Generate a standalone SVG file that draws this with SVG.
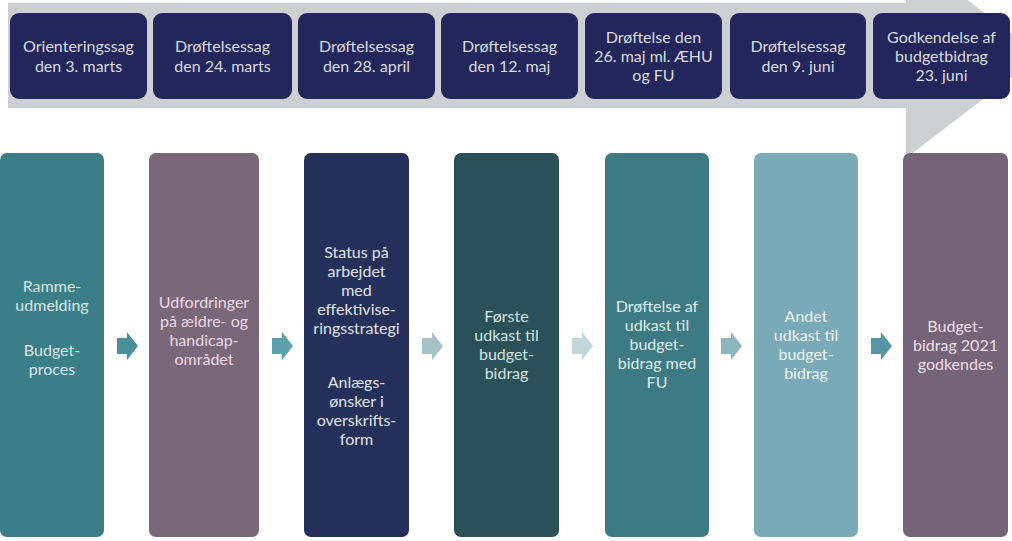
<svg xmlns="http://www.w3.org/2000/svg" width="1012" height="541" viewBox="0 0 1012 541">
<style>
.t{font-family:Lato,"Open Sans","Liberation Sans",sans-serif;font-size:16px;text-anchor:middle}
.top{fill:#d9dce8}
</style>
<defs>
<path id="sa" d="M0,-8 H10 V-14 L21,0 L10,14 V8 H0 Z"/>
</defs>
<rect width="1012" height="541" fill="#ffffff"/>
<g id="band">
<polygon points="8,3 906,3 906,-47 1040,55.5 906,158 906,108 8,108" fill="#cdcfd3"/>
</g>
<g id="top1"><rect x="10" y="13" width="137" height="86" rx="9" fill="#23265a"/><text class="t top" x="78.5"><tspan x="78.5" y="52">Orienteringssag</tspan><tspan x="78.5" y="72">den 3. marts</tspan></text></g>
<g id="top2"><rect x="153" y="13" width="139" height="86" rx="9" fill="#23265a"/><text class="t top"><tspan x="222.5" y="52">Drøftelsessag</tspan><tspan x="222.5" y="72">den 24. marts</tspan></text></g>
<g id="top3"><rect x="298" y="13" width="137" height="86" rx="9" fill="#23265a"/><text class="t top"><tspan x="366.5" y="52">Drøftelsessag</tspan><tspan x="366.5" y="72">den 28. april</tspan></text></g>
<g id="top4"><rect x="441" y="13" width="137" height="86" rx="9" fill="#23265a"/><text class="t top"><tspan x="509.5" y="52">Drøftelsessag</tspan><tspan x="509.5" y="72">den 12. maj</tspan></text></g>
<g id="top5"><rect x="585" y="13" width="137" height="86" rx="9" fill="#23265a"/><text class="t top"><tspan x="653.5" y="43">Drøftelse den</tspan><tspan x="653.5" y="62">26. maj ml. ÆHU</tspan><tspan x="653.5" y="81">og FU</tspan></text></g>
<g id="top6"><rect x="730" y="13" width="136" height="86" rx="9" fill="#23265a"/><text class="t top"><tspan x="798" y="52">Drøftelsessag</tspan><tspan x="798" y="72">den 9. juni</tspan></text></g>
<g id="top7"><rect x="873" y="13" width="137" height="86" rx="9" fill="#23265a"/><text class="t top"><tspan x="941.5" y="43">Godkendelse af</tspan><tspan x="941.5" y="62">budgetbidrag</tspan><tspan x="941.5" y="81">23. juni</tspan></text></g>

<g id="box1"><rect x="0" y="153" width="104" height="384" rx="7" fill="#3c7e88"/><text class="t" fill="#d6e9eb"><tspan x="52" y="292">Ramme-</tspan><tspan x="52" y="311">udmelding</tspan><tspan x="52" y="356">Budget-</tspan><tspan x="52" y="375">proces</tspan></text></g>
<g id="box2"><rect x="149" y="153" width="110" height="384" rx="7" fill="#7a6878"/><text class="t" fill="#efd9e9"><tspan x="204" y="308">Udfordringer</tspan><tspan x="204" y="327">på ældre- og</tspan><tspan x="204" y="346">handicap-</tspan><tspan x="204" y="365">området</tspan></text></g>
<g id="box3"><rect x="304" y="153" width="105" height="384" rx="7" fill="#25305a"/><text class="t" fill="#e0e4f0"><tspan x="356.5" y="258">Status på</tspan><tspan x="356.5" y="277">arbejdet</tspan><tspan x="356.5" y="296">med</tspan><tspan x="356.5" y="315">effektivise-</tspan><tspan x="356.5" y="334">ringsstrategi</tspan><tspan x="356.5" y="388">Anlægs-</tspan><tspan x="356.5" y="407">ønsker i</tspan><tspan x="356.5" y="426">overskrifts-</tspan><tspan x="356.5" y="445">form</tspan></text></g>
<g id="box4"><rect x="454" y="153" width="105" height="384" rx="7" fill="#2a5157"/><text class="t" fill="#d3e3e3"><tspan x="506.5" y="322">Første</tspan><tspan x="506.5" y="341">udkast til</tspan><tspan x="506.5" y="360">budget-</tspan><tspan x="506.5" y="379">bidrag</tspan></text></g>
<g id="box5"><rect x="605" y="153" width="104" height="384" rx="7" fill="#3e7a84"/><text class="t" fill="#dff0f1"><tspan x="657" y="312">Drøftelse af</tspan><tspan x="657" y="331">udkast til</tspan><tspan x="657" y="350">budget-</tspan><tspan x="657" y="369">bidrag med</tspan><tspan x="657" y="388">FU</tspan></text></g>
<g id="box6"><rect x="754" y="153" width="104" height="384" rx="7" fill="#7aaab7"/><text class="t" fill="#eef6f8"><tspan x="806" y="322">Andet</tspan><tspan x="806" y="341">udkast til</tspan><tspan x="806" y="360">budget-</tspan><tspan x="806" y="379">bidrag</tspan></text></g>
<g id="box7"><rect x="903" y="153" width="105" height="384" rx="7" fill="#756477"/><text class="t" fill="#efdfeb"><tspan x="955.5" y="332">Budget-</tspan><tspan x="955.5" y="351">bidrag 2021</tspan><tspan x="955.5" y="370">godkendes</tspan></text></g>

<g id="connectors">
<use href="#sa" x="117" y="346" fill="#4a8f9c"/>
<use href="#sa" x="272" y="346" fill="#5e9fae"/>
<use href="#sa" x="422" y="346" fill="#a6c3ca"/>
<use href="#sa" x="572" y="346" fill="#c3d6da"/>
<use href="#sa" x="721" y="346" fill="#8eb6c0"/>
<use href="#sa" x="871" y="346" fill="#5797a5"/>
</g>
</svg>
